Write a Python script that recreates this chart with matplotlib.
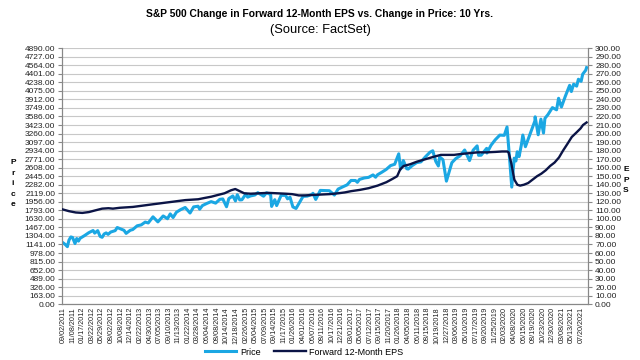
import numpy as np
import pandas as pd
import matplotlib
matplotlib.use("Agg")
import matplotlib.pyplot as plt
from matplotlib.lines import Line2D

plt.rcParams['font.family'] = ['Liberation Sans', 'DejaVu Sans']

# S&P 500 price
price_dates = [
    "2011-09-02", "2011-09-12", "2011-09-22", "2011-10-03", "2011-10-14", "2011-10-27",
    "2011-11-08", "2011-11-25", "2011-12-07", "2011-12-19", "2011-12-30",
    "2012-01-31", "2012-02-29", "2012-03-30", "2012-04-10", "2012-05-01", "2012-05-18",
    "2012-06-01", "2012-06-15", "2012-06-29", "2012-07-12", "2012-07-31", "2012-08-31",
    "2012-09-14", "2012-10-31", "2012-11-15", "2012-12-14", "2012-12-31",
    "2013-01-31", "2013-02-28", "2013-03-28", "2013-04-18", "2013-05-21",
    "2013-06-24", "2013-07-31", "2013-08-30", "2013-09-18", "2013-10-08", "2013-10-31",
    "2013-11-29", "2013-12-31", "2014-02-03", "2014-02-28", "2014-03-31", "2014-04-11",
    "2014-04-30", "2014-05-30", "2014-06-30", "2014-07-31", "2014-08-29", "2014-09-19",
    "2014-10-15", "2014-10-31", "2014-11-28", "2014-12-16", "2014-12-29", "2015-01-15",
    "2015-01-30", "2015-02-27", "2015-03-11", "2015-03-31", "2015-04-30", "2015-05-21",
    "2015-06-30", "2015-07-20", "2015-08-18", "2015-08-25", "2015-09-16", "2015-09-29",
    "2015-10-30", "2015-11-30", "2015-12-14", "2015-12-31", "2016-01-20", "2016-02-11",
    "2016-03-31", "2016-04-29", "2016-05-31", "2016-06-08", "2016-06-27", "2016-07-29",
    "2016-08-31", "2016-09-30", "2016-11-04", "2016-11-30", "2016-12-30", "2017-01-31",
    "2017-02-28", "2017-03-31", "2017-04-13", "2017-04-28", "2017-05-31", "2017-06-30",
    "2017-07-31", "2017-08-18", "2017-08-31", "2017-09-29", "2017-10-31", "2017-11-30",
    "2017-12-29", "2018-01-26", "2018-02-08", "2018-02-27", "2018-03-23", "2018-04-02",
    "2018-04-30", "2018-05-31", "2018-06-29", "2018-07-31", "2018-08-31", "2018-09-20",
    "2018-10-11", "2018-10-29", "2018-11-07", "2018-11-30", "2018-12-24", "2019-01-31",
    "2019-02-28", "2019-03-29", "2019-04-30", "2019-06-03", "2019-06-28", "2019-07-26",
    "2019-08-05", "2019-08-23", "2019-09-30", "2019-10-02", "2019-10-31", "2019-11-29",
    "2019-12-31", "2020-01-31", "2020-02-19", "2020-03-09", "2020-03-23", "2020-04-09",
    "2020-04-21", "2020-04-30", "2020-05-13", "2020-05-29", "2020-06-08", "2020-06-26",
    "2020-07-31", "2020-08-31", "2020-09-02", "2020-09-23", "2020-10-12", "2020-10-30",
    "2020-11-09", "2020-11-30", "2020-12-31", "2021-01-29", "2021-02-12", "2021-02-26",
    "2021-03-04", "2021-03-31", "2021-04-30", "2021-05-12", "2021-05-28", "2021-06-18",
    "2021-06-30", "2021-07-19", "2021-07-30", "2021-08-20", "2021-08-26",
]
price_vals = [
    1174, 1154, 1130, 1099, 1224, 1285,
    1275, 1159, 1255, 1205, 1258,
    1312, 1366, 1408, 1358, 1405, 1295,
    1278, 1342, 1362, 1334, 1379, 1406,
    1465, 1412, 1353, 1413, 1426,
    1498, 1515, 1569, 1552, 1669,
    1573, 1686, 1633, 1725, 1656, 1757,
    1806, 1848, 1742, 1859, 1872, 1815,
    1884, 1924, 1960, 1931, 2003, 2011,
    1862, 2018, 2068, 1973, 2091, 1992,
    1995, 2105, 2045, 2068, 2086, 2131,
    2063, 2128, 2097, 1868, 1996, 1884,
    2079, 2080, 2013, 2044, 1859, 1829,
    2060, 2065, 2097, 2119, 2001, 2174,
    2171, 2168, 2085, 2199, 2239, 2279,
    2364, 2363, 2329, 2384, 2412, 2423,
    2470, 2426, 2472, 2519, 2575, 2648,
    2674, 2873, 2581, 2744, 2588, 2582,
    2648, 2705, 2718, 2816, 2902, 2931,
    2728, 2641, 2814, 2760, 2351, 2704,
    2784, 2834, 2946, 2744, 2942, 3025,
    2844, 2847, 2977, 2888, 3038, 3141,
    3231, 3226, 3386, 2747, 2237, 2790,
    2737, 2912, 2820, 3044, 3232, 3009,
    3271, 3500, 3580, 3237, 3535, 3270,
    3550, 3622, 3756, 3714, 3934, 3811,
    3768, 3973, 4181, 4063, 4204, 4166,
    4298, 4258, 4395, 4470, 4520,
]

# Forward 12-month EPS
eps_dates = [
    "2011-09-02", "2011-10-15", "2011-11-30", "2012-01-15", "2012-03-01", "2012-04-15",
    "2012-06-01", "2012-07-15", "2012-08-15", "2012-10-01", "2012-11-15", "2013-01-01",
    "2013-02-15", "2013-04-01", "2013-05-15", "2013-07-01", "2013-08-15", "2013-10-01",
    "2013-11-15", "2014-01-01", "2014-02-15", "2014-04-01", "2014-05-15", "2014-07-01",
    "2014-08-15", "2014-10-01", "2014-11-15", "2014-12-15", "2015-01-15", "2015-02-15",
    "2015-04-01", "2015-06-01", "2015-08-01", "2015-10-01", "2015-12-01", "2016-01-15",
    "2016-03-01", "2016-04-15", "2016-06-01", "2016-08-01", "2016-10-01", "2016-12-01",
    "2017-01-15", "2017-03-01", "2017-05-01", "2017-07-01", "2017-09-01", "2017-11-01",
    "2017-12-15", "2018-01-15", "2018-02-05", "2018-03-01", "2018-04-15", "2018-06-01",
    "2018-08-01", "2018-10-01", "2018-11-15", "2018-12-31", "2019-02-15", "2019-04-01",
    "2019-06-01", "2019-08-01", "2019-10-01", "2019-12-01", "2020-01-15", "2020-02-20",
    "2020-03-01", "2020-03-20", "2020-04-10", "2020-05-01", "2020-05-20", "2020-06-15",
    "2020-07-15", "2020-08-15", "2020-09-15", "2020-10-15", "2020-11-15", "2020-12-15",
    "2021-01-15", "2021-02-15", "2021-03-15", "2021-04-15", "2021-05-15", "2021-06-15",
    "2021-07-15", "2021-08-01", "2021-08-26",
]
eps_vals = [
    111, 109, 107.5, 107, 108, 110,
    112, 112.5, 112, 113, 113.5, 114,
    115, 116, 117, 118, 119, 120,
    121, 122, 122.5, 123, 124.5, 126,
    128, 130, 133.5, 135, 132.5, 130,
    129.5, 130, 130.5, 130, 129.5, 129,
    127.5, 127.5, 128, 128.5, 129, 130,
    131, 132.5, 134, 136, 139, 143,
    147, 150, 158, 162, 164, 167,
    170, 173, 175, 175, 175, 176,
    177, 178, 178, 178.5, 179, 179,
    178, 165, 146, 140, 139, 140,
    142, 146, 150, 153, 157, 162,
    166, 172, 180, 188, 196, 201,
    206, 210, 213,
]

tick_labels = [
    "09/02/2011", "11/08/2011", "01/17/2012", "03/22/2012", "05/29/2012", "08/02/2012",
    "10/08/2012", "12/14/2012", "02/22/2013", "04/30/2013", "07/05/2013", "09/10/2013",
    "11/13/2013", "01/22/2014", "03/28/2014", "06/04/2014", "08/08/2014", "10/14/2014",
    "12/18/2014", "02/26/2015", "05/04/2015", "07/09/2015", "09/14/2015", "11/17/2015",
    "01/26/2016", "04/01/2016", "06/07/2016", "08/11/2016", "10/17/2016", "12/21/2016",
    "03/01/2017", "05/05/2017", "07/12/2017", "09/15/2017", "11/20/2017", "01/26/2018",
    "04/05/2018", "06/11/2018", "08/15/2018", "10/19/2018", "12/27/2018", "03/06/2019",
    "05/10/2019", "07/17/2019", "09/20/2019", "11/25/2019", "02/03/2020", "04/08/2020",
    "06/15/2020", "08/19/2020", "10/23/2020", "12/30/2020", "03/08/2021", "05/13/2021",
    "07/20/2021",
]

price_color = "#1ba7e3"
eps_color = "#0b1446"

fig = plt.figure(figsize=(6.4, 3.6), dpi=100)
ax = fig.add_axes([0.097, 0.155, 0.822, 0.711])
ax2 = ax.twinx()

px = pd.to_datetime(price_dates)
ex = pd.to_datetime(eps_dates)
ticks = pd.to_datetime(tick_labels, format="%m/%d/%Y")

ax.plot(px, price_vals, color=price_color, lw=2.2, zorder=3)
ax2.plot(ex, eps_vals, color=eps_color, lw=1.7, zorder=3)

ax.set_ylim(0, 4890)
ax.set_yticks(np.arange(0, 4890 + 1, 163))
ax.set_yticklabels([f"{v:.2f}" for v in np.arange(0, 4890 + 1, 163)])
ax2.set_ylim(0, 300)
ax2.set_yticks(np.arange(0, 301, 10))
ax2.set_yticklabels([f"{v:.2f}" for v in np.arange(0, 301, 10)])

ax.set_xlim(pd.Timestamp("2011-08-27"), pd.Timestamp("2021-09-06"))
ax.set_xticks(ticks)
ax.set_xticklabels(tick_labels, rotation=90, fontsize=5.2, color="#222222")

ax.grid(axis='y', color="#c8c8c8", lw=0.8, zorder=0)
ax.set_axisbelow(True)
for a in (ax, ax2):
    for s in a.spines.values():
        s.set_color("#888888")
        s.set_linewidth(0.8)
    a.spines['top'].set_visible(False)
ax.tick_params(axis='y', labelsize=6, length=3, pad=2, colors="#888888", labelcolor="#222222")
ax2.tick_params(axis='y', labelsize=6, length=3, pad=2, colors="#888888", labelcolor="#222222")
ax.tick_params(axis='x', length=0, pad=2)

fig.text(0.5, 0.961, "S&P 500 Change in Forward 12-Month EPS vs. Change in Price: 10 Yrs.",
         ha='center', va='center', fontsize=7.4, fontweight='bold')
fig.text(0.5, 0.917, "(Source: FactSet)", ha='center', va='center', fontsize=9.3)

fig.text(0.02, 0.49, "P\nr\ni\nc\ne", ha='center', va='center', fontsize=6,
         fontweight='bold', linespacing=1.7)
fig.text(0.978, 0.5, "E\nP\nS", ha='center', va='center', fontsize=6,
         fontweight='bold', linespacing=1.7)

handles = [Line2D([], [], color=price_color, lw=2.2),
           Line2D([], [], color=eps_color, lw=1.7)]
fig.legend(handles, ["Price", "Forward 12-Month EPS"], loc='center',
           bbox_to_anchor=(0.475, 0.022), ncol=2, frameon=False, fontsize=6.5,
           handlelength=3.5, columnspacing=1.5, handletextpad=0.4)

fig.savefig("out.png", dpi=100)
